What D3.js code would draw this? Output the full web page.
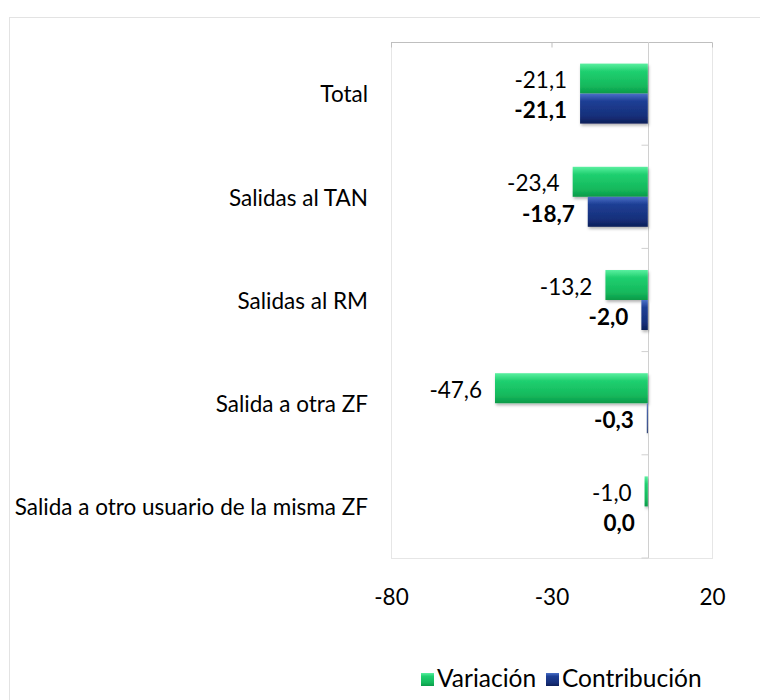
<!DOCTYPE html>
<html>
<head>
<meta charset="utf-8">
<script src="https://cdn.jsdelivr.net/npm/d3@7"></script>
<style>
  body { margin: 0; background: #fff; }
  svg text { font-family: Lato, "Open Sans", sans-serif; fill: #000; }
</style>
</head>
<body>
<svg width="760" height="700"></svg>
<script>
const categories = ['Total', 'Salidas al TAN', 'Salidas al RM', 'Salida a otra ZF', 'Salida a otro usuario de la misma ZF'];
const series = ['Variación', 'Contribución'];
const variacion = [-21.1, -23.4, -13.2, -47.6, -1.0];
const contribucion = [-21.1, -18.7, -2.0, -0.3, 0.0];
const xTicks = [-80, -30, 20];

function whenDocumentLoaded(action) {
	if (document.readyState === "loading") {
		document.addEventListener("DOMContentLoaded", action);
	} else {
		action();
	}
}

function makeChart() {
	const svg = d3.select('svg');
	const plot = {left: 391, right: 712, top: 42, bottom: 558};
	const FS = 22.5;

	// gradients for the bevelled bars
	const defs = svg.append('defs');
	const grads = {
		'Variación': ['#5af0a0', '#20d070', '#14b85c', '#0c9a48'],
		'Contribución': ['#4a70c8', '#1e3f95', '#162f7a', '#0d1f58']
	};
	series.forEach((s, i) => {
		const g = defs.append('linearGradient')
			.attr('id', 'g' + i)
			.attr('x1', 0).attr('y1', 0).attr('x2', 0).attr('y2', 1);
		const c = grads[s];
		g.append('stop').attr('offset', '0%').attr('stop-color', c[0]);
		g.append('stop').attr('offset', '25%').attr('stop-color', c[1]);
		g.append('stop').attr('offset', '75%').attr('stop-color', c[2]);
		g.append('stop').attr('offset', '100%').attr('stop-color', c[3]);
	});
	const sh = defs.append('filter').attr('id', 'shadow')
		.attr('x', '-10%').attr('y', '-20%').attr('width', '130%').attr('height', '160%');
	sh.append('feDropShadow').attr('dx', 1).attr('dy', 2).attr('stdDeviation', 1.5)
		.attr('flood-color', '#000').attr('flood-opacity', 0.3);

	// outer frame
	svg.append('rect')
		.attr('x', 9.5).attr('y', 17.5).attr('width', 800).attr('height', 800)
		.attr('fill', 'none').attr('stroke', '#e3e3e3').attr('stroke-width', 1);

	const x = d3.scaleLinear().domain([-80, 20]).range([plot.left, plot.right]);
	const y0 = d3.scaleBand().domain(categories).range([plot.top, plot.bottom]);
	const y1 = d3.scaleBand().domain(series).range([0, y0.bandwidth()]).paddingOuter(0.72);

	// plot area border
	svg.append('rect')
		.attr('x', plot.left + 0.5).attr('y', plot.top + 0.5)
		.attr('width', plot.right - plot.left).attr('height', plot.bottom - plot.top)
		.attr('fill', 'none').attr('stroke', '#e6e6e6');

	// value axis line at top, with ticks pointing down
	const xAxisTop = svg.append('g')
		.attr('transform', `translate(0,${plot.top + 0.5})`)
		.call(d3.axisBottom(x).tickValues(xTicks).tickSize(5).tickFormat(''));
	xAxisTop.select('.domain').attr('stroke', '#bfbfbf').attr('d', `M${plot.left},0H${plot.right}`);
	xAxisTop.selectAll('.tick line').attr('stroke', '#bfbfbf');

	// tick labels at the bottom
	const xAxisBottom = svg.append('g')
		.attr('transform', `translate(0,${plot.bottom + 30})`)
		.call(d3.axisBottom(x).tickValues(xTicks).tickSize(0).tickFormat(d => String(d)));
	xAxisBottom.select('.domain').remove();
	xAxisBottom.selectAll('text').attr('font-size', FS).attr('dy', '0.6em')
		.style('font-family', 'Lato, sans-serif').attr('fill', '#000');

	// category axis on the zero line
	const yAxis = svg.append('g')
		.attr('transform', `translate(${Math.round(x(0)) + 0.5},0)`)
		.call(d3.axisLeft(y0).tickSize(0).tickFormat(''));
	yAxis.select('.domain').attr('stroke', '#d0d0d0').attr('d', `M0,${plot.top}V${plot.bottom}`);
	const bounds = d3.range(categories.length + 1).map(i => plot.top + i * y0.step());
	yAxis.selectAll('.bnd').data(bounds.slice(1)).enter().append('line')
		.attr('x1', -7).attr('x2', 0).attr('y1', d => d).attr('y2', d => d)
		.attr('stroke', '#d0d0d0');

	// category labels
	svg.append('g').selectAll('text').data(categories).enter().append('text')
		.attr('x', 368)
		.attr('y', d => y0(d) + y0.bandwidth() / 2 + 3)
		.attr('text-anchor', 'end')
		.attr('dominant-baseline', 'middle')
		.attr('font-size', FS)
		.text(d => d);

	const rows = categories.map((c, i) => ({cat: c, values: [variacion[i], contribucion[i]]}));
	const fmt = v => d3.format('.1f')(v).replace('.', ',').replace('−', '-');

	const groups = svg.append('g').selectAll('g').data(rows).enter().append('g')
		.attr('transform', d => `translate(0,${y0(d.cat)})`);

	groups.selectAll('rect').data(d => d.values.map((v, i) => ({s: series[i], v: v, i: i})))
		.enter().append('rect')
		.attr('x', d => x(Math.min(0, d.v)))
		.attr('y', d => y1(d.s))
		.attr('width', d => Math.max(Math.abs(x(d.v) - x(0)), 0.01))
		.attr('height', y1.bandwidth())
		.attr('fill', d => `url(#g${d.i})`)
		.attr('filter', 'url(#shadow)');

	groups.selectAll('text.lbl').data(d => d.values.map((v, i) => ({s: series[i], v: v, i: i})))
		.enter().append('text')
		.attr('class', 'lbl')
		.attr('x', d => x(Math.min(0, d.v)) - 13)
		.attr('y', d => y1(d.s) + y1.bandwidth() / 2 + 4)
		.attr('text-anchor', 'end')
		.attr('dominant-baseline', 'middle')
		.attr('font-size', FS)
		.attr('font-weight', d => d.i === 1 ? 'bold' : 'normal')
		.text(d => fmt(d.v));

	// legend
	const legend = svg.append('g').attr('transform', 'translate(421,673)');
	const items = [{s: series[0], x: 0, i: 0}, {s: series[1], x: 125, i: 1}];
	const li = legend.selectAll('g').data(items).enter().append('g')
		.attr('transform', d => `translate(${d.x},0)`);
	li.append('rect').attr('width', 13).attr('height', 13).attr('fill', d => `url(#g${d.i})`);
	li.append('text').attr('x', 16).attr('y', 8).attr('dominant-baseline', 'middle')
		.attr('font-size', 24.5).text(d => d.s);
}

whenDocumentLoaded(() => {
	makeChart();
});
</script>
</body>
</html>
